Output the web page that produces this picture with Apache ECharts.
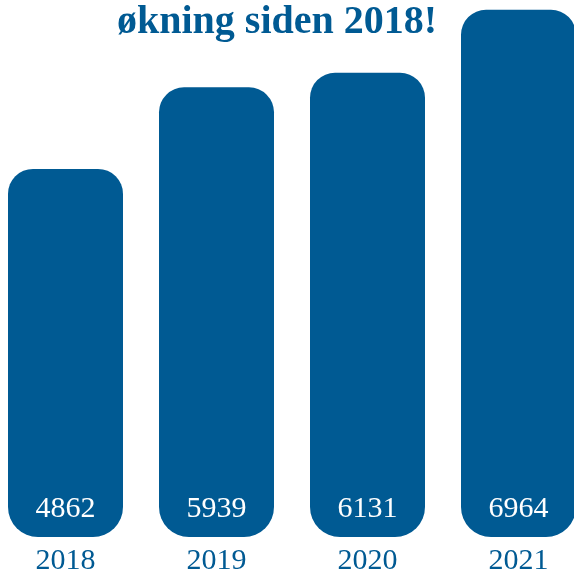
<!DOCTYPE html>
<html><head><meta charset="utf-8">
<script src="https://cdn.jsdelivr.net/npm/echarts@6/dist/echarts.min.js"></script>
<style>html,body{margin:0;padding:0;background:#fff}#c{width:574px;height:571px}</style>
</head><body><div id="c"></div>
<script>
const titleText = 'økning siden 2018!';
const categories = ['2018', '2019', '2020', '2021'];
const values = [4862, 5939, 6131, 6964];
const blue = '#005a93';
const serif = '"Liberation Serif", "DejaVu Serif", serif';
const chart = echarts.init(document.getElementById('c'));
chart.setOption({
  animation: false,
  title: {
    text: titleText, left: 112, top: 0,
    textStyle: { fontFamily: serif, fontWeight: 'bold', fontSize: 40, color: blue, lineHeight: 36 }
  },
  grid: { left: -10, right: -20, top: 7, bottom: 34, containLabel: false, outerBoundsMode: 'none' },
  xAxis: {
    type: 'category', data: categories,
    axisLine: { show: false }, axisTick: { show: false },
    axisLabel: { fontFamily: serif, fontSize: 30, color: blue, margin: 9 }
  },
  yAxis: { type: 'value', min: 0, max: 7000, show: false, splitLine: { show: false } },
  series: [{
    type: 'bar', data: values, barWidth: 115,
    itemStyle: { color: blue, borderRadius: [25, 25, 30, 30] },
    label: {
      show: true, position: 'insideBottom', distance: 13,
      fontFamily: serif, fontSize: 30, color: '#ffffff'
    }
  }]
});
</script></body></html>
